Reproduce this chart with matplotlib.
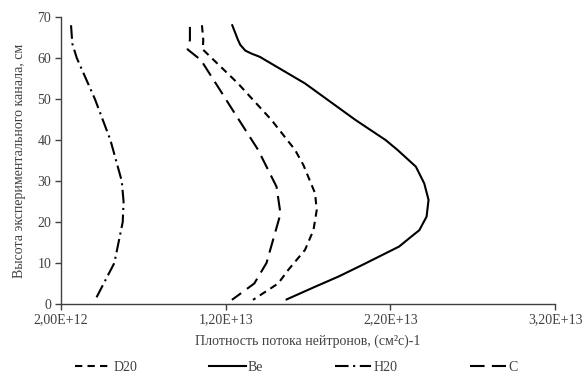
import matplotlib
matplotlib.use("Agg")
from matplotlib import pyplot as plt

plt.rcParams['font.family'] = ['Liberation Serif', 'DejaVu Serif']

# heights, cm
d2o_h = [68, 64.4, 62.1, 53.8, 44.9, 37.6, 33.9, 27, 22.9, 18, 13.2, 8.3, 5, 1]
be_h = [68, 64.4, 63.2, 61.8, 61.1, 60.3, 53.8, 44.9, 40, 37.6, 33.5, 29.4, 25.4, 21.3, 18, 16, 14,
        11.95, 9.5, 6.7, 4.2, 1.1]
h2o_h = [68, 63.5, 60, 50, 40, 30, 25, 20, 10, 1]
c_h = [67.6, 64.4, 62.1, 59.5, 51.8, 48.1, 37.6, 28.6, 22, 10, 5, 1]

# neutron flux density, (cm2 s)-1
d2o_flux = [1.056e13, 1.064e13, 1.061e13, 1.275e13, 1.478e13, 1.621e13, 1.672e13, 1.743e13, 1.753e13,
            1.733e13, 1.682e13, 1.580e13, 1.519e13, 1.366e13]
be_flux = [1.240e13, 1.275e13, 1.289e13, 1.320e13, 1.356e13, 1.407e13, 1.682e13, 1.988e13, 2.171e13,
           2.243e13, 2.355e13, 2.406e13, 2.432e13, 2.420e13, 2.376e13, 2.314e13, 2.253e13,
           2.151e13, 2.029e13, 1.886e13, 1.743e13, 1.570e13]
h2o_flux = [2.61e12, 2.69e12, 2.96e12, 4.06e12, 5.00e12, 5.69e12, 5.80e12, 5.75e12, 5.24e12, 4.08e12]
c_flux = [9.83e12, 9.83e12, 9.69e12, 1.050e13, 1.172e13, 1.230e13, 1.397e13, 1.509e13, 1.533e13,
          1.448e13, 1.374e13, 1.238e13]

xticks = [2e12, 1.2e13, 2.2e13, 3.2e13]
xtick_labels = ['2,00E+12', '1,20E+13', '2,20E+13', '3,20E+13']
yticks = [0, 10, 20, 30, 40, 50, 60, 70]

fig = plt.figure(figsize=(5.83, 3.79), dpi=100)
ax = fig.add_axes([0.1046, 0.198, 0.8474, 0.757])

lw = 1.5
ax.plot(d2o_flux, d2o_h, color='black', lw=lw, dashes=(3.5, 2.5), label='D20')
ax.plot(be_flux, be_h, color='black', lw=lw, label='Be')
ax.plot(h2o_flux, h2o_h, color='black', lw=lw, dashes=(6.5, 2.2, 1, 2.2), label='H20')
ax.plot(c_flux, c_h, color='black', lw=lw, dashes=(7, 3.5), label='C')

ax.set_xlim(2e12, 3.2e13)
ax.set_ylim(0, 70)
ax.set_xticks(xticks)
ax.set_xticklabels(xtick_labels)
ax.set_yticks(yticks)

for s in ['top', 'right']:
    ax.spines[s].set_visible(False)
for s in ['left', 'bottom']:
    ax.spines[s].set_color('#404040')
    ax.spines[s].set_linewidth(1.0)
ax.tick_params(axis='both', direction='out', length=4, width=1.0, color='#404040',
               labelsize=10, labelcolor='#404040', pad=3)

ax.set_xlabel('Плотность потока нейтронов, (см²с)-1', fontsize=10, color='#404040', labelpad=6)
ax.set_ylabel('Высота экспериментального канала, см', fontsize=10, color='#404040', labelpad=8)

fig.legend(loc='center', bbox_to_anchor=(0.508, 0.03), ncol=4, frameon=False,
           fontsize=10, handlelength=2.6, handletextpad=0.15, columnspacing=5.2,
           labelcolor='#404040')

fig.savefig('out.png', dpi=100)
